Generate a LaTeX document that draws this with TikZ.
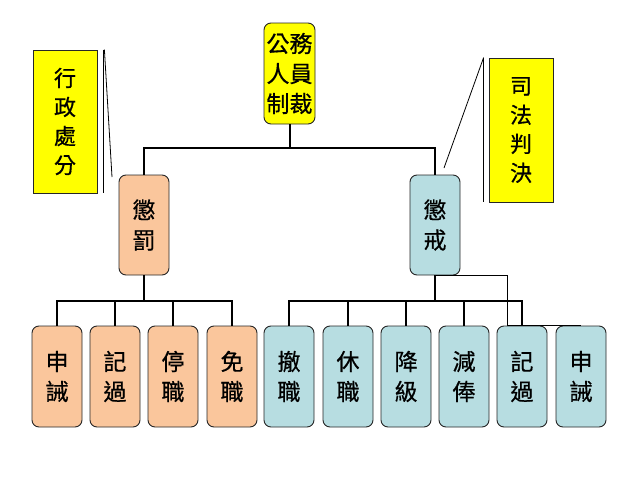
\documentclass[tikz,border=0pt]{standalone}
\usepackage{fontspec}
\newfontfamily\cjk[FakeBold=0.6]{Noto Sans CJK TC}
\usetikzlibrary{calc}
\definecolor{boxyellow}{HTML}{FFFF00}
\definecolor{boxorange}{HTML}{FAC69C}
\definecolor{boxblue}{HTML}{B7DDE1}
\tikzset{
  box/.style={draw=black!85, line width=0.9pt, rounded corners=7pt, minimum width=50pt, minimum height=101pt, inner sep=0pt, align=center, font=\cjk\fontsize{23}{30}\selectfont},
  topbox/.style={box, fill=boxyellow, minimum width=51pt},
  orangebox/.style={box, fill=boxorange},
  bluebox/.style={box, fill=boxblue},
  callbox/.style={draw=black!85, line width=0.8pt, fill=boxyellow, minimum width=64pt, minimum height=143pt, inner sep=0pt, align=center, font=\cjk\fontsize{22}{29}\selectfont},
  conn/.style={line width=2pt, black},
  thinconn/.style={line width=1.4pt, black},
  trunk/.style={line width=2.8pt, black},
  callline/.style={line width=0.8pt, black}
}
\begin{document}
\begin{tikzpicture}[x=1pt,y=-1pt]
\useasboundingbox (0,0) rectangle (638,479);
% nodes
\node[topbox] (top) at (289.5,73.5) {公務\\人員\\制裁};
\node[orangebox, minimum height=100pt] (p1) at (144,225) {懲\\罰};
\node[bluebox, minimum height=100pt] (p2) at (435,225) {懲\\戒};
\node[orangebox] (c1) at (57,376.5) {申\\誡};
\node[orangebox] (c2) at (115,376.5) {記\\過};
\node[orangebox] (c3) at (173,376.5) {停\\職};
\node[orangebox] (c4) at (232,376.5) {免\\職};
\node[bluebox] (c5) at (289,376.5) {撤\\職};
\node[bluebox] (c6) at (348,376.5) {休\\職};
\node[bluebox] (c7) at (406,376.5) {降\\級};
\node[bluebox] (c8) at (464,376.5) {減\\俸};
\node[bluebox] (c9) at (522,376.5) {記\\過};
\node[bluebox] (c10) at (581,376.5) {申\\誡};
% callouts
\node[callbox] (k1) at (65,121.5) {行\\政\\處\\分};
\node[callbox, minimum height=144pt] (k2) at (521,130) {司\\法\\判\\決};
\coordinate (b1t) at ($(k1.north east)+(6,0)$);
\coordinate (b1b) at ($(k1.south east)+(6,0)$);
\coordinate (b1p) at (112,177);
\draw[callline] (b1t) -- (b1b);
\draw[callline] ($(b1t)+(1,0)$) -- (b1p);
\coordinate (b2t) at ($(k2.north west)+(-5,0)$);
\coordinate (b2b) at ($(k2.south west)+(-5,0)$);
\coordinate (b2p) at (444,168);
\draw[callline] (b2t) -- (b2b);
\draw[callline] (b2t) -- (b2p);
% tree connectors
\draw[conn] (top.south) -- ++(0,24) -| (p1.north);
\draw[conn] (top.south) -- ++(0,24) -| (p2.north);
\foreach \c in {c1,c2,c3,c4}{
  \draw[conn] (p1.south) -- ++(0,26) -| (\c.north);
}
\foreach \c in {c5,c6,c7,c8,c9}{
  \draw[conn] (p2.south) -- ++(0,26) -| (\c.north);
}
\draw[trunk] (p1.south) -- ++(0,26);
\draw[trunk] (p2.south) -- ++(0,26);
\draw[thinconn] (p2.south) -- ([xshift=11pt]c9.north west |- p2.south) -- ([xshift=11pt]c9.north west) -- (c10.north);
\end{tikzpicture}
\end{document}
